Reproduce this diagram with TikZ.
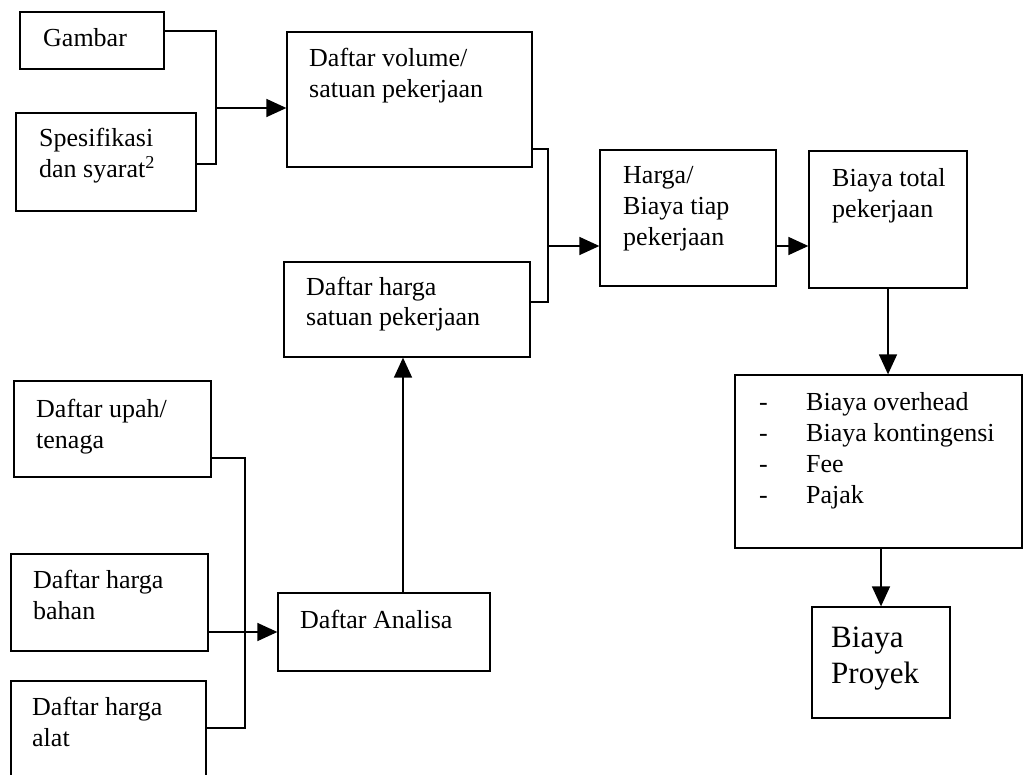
\documentclass[tikz,border=0pt]{standalone}
\usepackage{fontspec}
\setmainfont{Liberation Serif}
\usetikzlibrary{arrows.meta}
\newcommand\stk[1]{\begin{tabular}[t]{@{}l@{}}#1\end{tabular}}
\begin{document}
\begin{tikzpicture}[x=1pt,y=-1pt,
  box/.style={draw, line width=1.3pt, inner sep=0pt, rectangle},
  txt/.style={anchor=base west, inner sep=0pt, font=\fontsize{26}{31}\selectfont},
  wire/.style={line width=1.5pt},
  arr/.style={line width=1.5pt, -{Triangle[length=20pt,width=18pt]}}]
\clip (0,0) rectangle (1027,775);
\fill[white] (0,0) rectangle (1027,775);

% boxes
\node[box, minimum width=144pt, minimum height=57pt]  (gambar)  at (92,40.5)    {};
\node[box, minimum width=180pt, minimum height=98pt]  (spes)    at (106,162)    {};
\node[box, minimum width=245pt, minimum height=135pt] (vol)     at (409.5,99.5) {};
\node[box, minimum width=246pt, minimum height=95pt]  (hsat)    at (407,309.5)  {};
\node[box, minimum width=176pt, minimum height=136pt] (harga)   at (688,218)    {};
\node[box, minimum width=158pt, minimum height=137pt] (total)   at (888,219.5)  {};
\node[box, minimum width=287pt, minimum height=173pt] (list)    at (878.5,461.5){};
\node[box, minimum width=138pt, minimum height=111pt] (proyek)  at (881,662.5)  {};
\node[box, minimum width=197pt, minimum height=96pt]  (upah)    at (112.5,429)  {};
\node[box, minimum width=197pt, minimum height=97pt]  (bahan)   at (109.5,602.5){};
\node[box, minimum width=195pt, minimum height=119pt] (alat)    at (108.5,740.5){};
\node[box, minimum width=212pt, minimum height=78pt]  (analisa) at (384,632)     {};

% texts
\node[txt] (gambar-t)  at (43,47)   {Gambar};
\node[txt] (spes-t)    at (39,147)  {\stk{Spesifikasi\\dan syarat\textsuperscript{2}}};
\node[txt] (vol-t)     at (309,67)  {\stk{Daftar volume/\\satuan pekerjaan}};
\node[txt] (hsat-t)    at (306,295) {\stk{Daftar harga\\satuan pekerjaan}};
\node[txt] (harga-t)   at (623,184) {\stk{Harga/\\Biaya tiap\\pekerjaan}};
\node[txt] (total-t)   at (832,187) {\stk{Biaya total\\pekerjaan}};
\node[txt] (list-t)    at (759,410) {\begin{tabular}[t]{@{}p{47pt}@{}l@{}}
  -& Biaya overhead\\ -& Biaya kontingensi\\ -& Fee\\ -& Pajak\end{tabular}};
\node[txt, font=\fontsize{31}{36}\selectfont] (proyek-t) at (831,647) {\stk{Biaya\\Proyek}};
\node[txt] (upah-t)    at (36,417)  {\stk{Daftar upah/\\tenaga}};
\node[txt] (bahan-t)   at (33,588)  {\stk{Daftar harga\\bahan}};
\node[txt] (alat-t)    at (32,715)  {\stk{Daftar harga\\alat}};
\node[txt] (analisa-t) at (300,628) {Daftar Analisa};

% junction points of the collecting lines
\coordinate (m1) at (216,164);
\coordinate (j1) at (216,108);
\coordinate (m2) at (548,302);
\coordinate (j2) at (548,246);
\coordinate (m3) at (245,728);

% drawings + specifications -> volume list
\draw[wire] ([yshift=9.5pt]gambar.east) -| (m1) -- (m1 -| spes.east);
\draw[arr] (j1) -- (j1 -| vol.west);

% volume list + unit prices -> cost per item
\draw[wire] ([yshift=-49.5pt]vol.east) -| (m2) -- (m2 -| hsat.east);
\draw[arr] (j2) -- (j2 -| harga.west);
\draw[arr] (harga.east |- j2) -- (total.west |- j2);

% total -> additions -> project cost
\draw[arr] (total.south) -- (total.south |- list.north);
\draw[arr] (list.south -| proyek.north) -- (proyek.north);

% wages, materials, equipment -> analysis -> unit prices
\draw[wire] ([yshift=-29pt]upah.east) -| (m3) -- (m3 -| alat.east);
\draw[arr] (analisa.west -| bahan.east) -- (analisa.west);
\draw[arr] ([xshift=19pt]analisa.north) -- ([xshift=19pt]analisa.north |- hsat.south);
\end{tikzpicture}
\end{document}
